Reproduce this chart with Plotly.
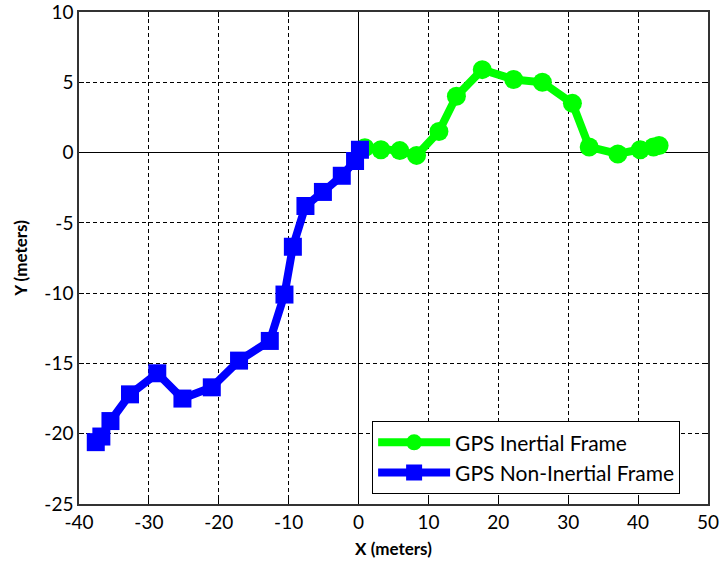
import plotly.graph_objects as go

# GPS track in the inertial frame (circles)
inertial_x = [0.9, 3.2, 5.9, 8.3, 11.5, 14.0, 17.7, 22.2, 26.3, 30.6, 33.0, 37.1, 40.3, 42.2, 43.0]
inertial_y = [0.35, 0.2, 0.14, -0.2, 1.5, 4.0, 5.9, 5.2, 5.0, 3.5, 0.4, -0.1, 0.2, 0.4, 0.5]

# GPS track in the non-inertial frame (squares)
noninertial_x = [-37.6, -36.8, -35.5, -32.7, -28.8, -25.2, -21.0, -17.1, -12.7,
                 -10.6, -9.4, -7.6, -5.1, -2.4, -0.5, 0.2]
noninertial_y = [-20.6, -20.2, -19.1, -17.2, -15.7, -17.5, -16.7, -14.8, -13.4,
                 -10.1, -6.7, -3.8, -2.8, -1.65, -0.6, 0.2]

x_ticks = [-40, -30, -20, -10, 0, 10, 20, 30, 40, 50]
x_tick_labels = ["-40", "-30", "-20", "-10", "0", "10", "20", "30", "40", "50"]
y_ticks = [-25, -20, -15, -10, -5, 0, 5, 10]
y_tick_labels = ["-25", "-20", "-15", "-10", "-5", "0", "5", "10"]

FONT = "Lato, sans-serif"

fig = go.Figure()
fig.add_trace(go.Scatter(
    x=inertial_x, y=inertial_y, mode="lines+markers",
    name="GPS Inertial Frame",
    line=dict(color="#00ff00", width=8),
    marker=dict(symbol="circle", size=19, color="#00ff00"),
))
fig.add_trace(go.Scatter(
    x=noninertial_x, y=noninertial_y, mode="lines+markers",
    name="GPS Non-Inertial Frame",
    line=dict(color="#0000ff", width=8),
    marker=dict(symbol="square", size=18, color="#0000ff"),
))

axis_common = dict(
    showgrid=True, gridcolor="black", gridwidth=1, griddash="4px,3px",
    zeroline=True, zerolinecolor="black", zerolinewidth=1.2,
    showline=True, linecolor="#333333", linewidth=1.5, mirror="allticks",
    ticks="inside", ticklen=5, tickcolor="black",
    tickfont=dict(family=FONT, size=19, color="black"),
    ticklabeloverflow="allow",
    automargin=False,
)

fig.update_xaxes(range=[-40, 50], tickvals=x_ticks, ticktext=x_tick_labels,
                 title=dict(text="<b>X (meters)</b>", font=dict(family=FONT, size=17, color="black"), standoff=12),
                 **axis_common)
fig.update_yaxes(range=[-25, 10], tickvals=y_ticks, ticktext=y_tick_labels,
                 title=dict(text="<b>Y (meters)</b>", font=dict(family=FONT, size=17, color="black"), standoff=12),
                 **axis_common)

fig.update_layout(
    width=722, height=567,
    margin=dict(l=79, r=14, t=12, b=63),
    plot_bgcolor="white", paper_bgcolor="white",
    legend=dict(
        x=0.466, y=0.02, xanchor="left", yanchor="bottom",
        bgcolor="white", bordercolor="black", borderwidth=1,
        font=dict(family=FONT, size=21, color="black"),
        itemwidth=72,
    ),
    showlegend=True,
)

fig.write_html("out.html")
